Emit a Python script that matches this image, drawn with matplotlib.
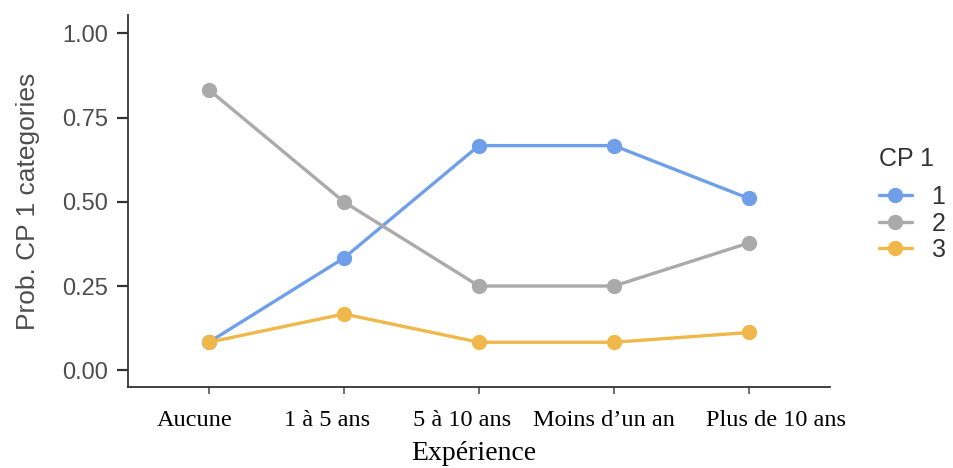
import matplotlib
matplotlib.use("Agg")
import matplotlib.pyplot as plt
from matplotlib.transforms import ScaledTranslation

categories = ["Aucune", "1 à 5 ans", "5 à 10 ans", "Moins d\u2019un an", "Plus de 10 ans"]
cp1 = [0.083, 0.333, 0.667, 0.667, 0.510]
cp2 = [0.833, 0.500, 0.250, 0.250, 0.378]
cp3 = [0.083, 0.167, 0.083, 0.083, 0.112]
series_labels = ["1", "2", "3"]
colors = ["#6f9fe8", "#aaaaaa", "#f0b84a"]
yticks = [0.0, 0.25, 0.5, 0.75, 1.0]
ytick_labels = ["0.00", "0.25", "0.50", "0.75", "1.00"]

fig = plt.figure(figsize=(9.54, 4.68), dpi=100)
ax = fig.add_axes([0.134, 0.173, 0.736, 0.795])

x = list(range(1, len(categories) + 1))
for vals, lab, col in zip([cp1, cp2, cp3], series_labels, colors):
    ax.plot(x, vals, color=col, lw=2.4, marker="o", ms=10, label=lab,
            solid_capstyle="round")

ax.set_xlim(0.4, 5.6)
ax.set_ylim(-0.05, 1.055)
ax.set_yticks(yticks)
ax.set_yticklabels(ytick_labels, fontsize=17, color="#4d4d4d",
                   family=["Liberation Sans"])
ax.set_xticks(x)
ax.set_xticklabels([])
# x tick labels, nudged horizontally (pixels at 100 dpi) as in the reference
nudges = [-14, -17, -17, -10, 27]
for xi, lab, dx in zip(x, categories, nudges):
    tr = ax.get_xaxis_transform() + ScaledTranslation(dx / 100, -0.33, fig.dpi_scale_trans)
    ax.text(xi, 0, lab, transform=tr, ha="center", va="center", fontsize=17.5,
            family=["Liberation Serif"], color="black", clip_on=False)

for s in ["top", "right"]:
    ax.spines[s].set_visible(False)
for s in ["left", "bottom"]:
    ax.spines[s].set_color("#333333")
    ax.spines[s].set_linewidth(1.3)
ax.tick_params(axis="y", length=8, width=1.6, color="#333333", pad=6)
ax.tick_params(axis="x", length=5, width=1.2, color="#555555", pad=12)

ax.set_ylabel("Prob. CP 1 categories", fontsize=19, color="#4d4d4d",
              family=["Liberation Sans"], labelpad=16)
ax.text(0.5, 0, "Expérience", transform=ax.transAxes + ScaledTranslation(-0.05, -0.66, fig.dpi_scale_trans),
        ha="center", va="center", fontsize=20, family=["Liberation Serif"], clip_on=False)

leg = ax.legend(title="CP 1", loc="center left", bbox_to_anchor=(1.045, 0.49),
                frameon=False, prop={"family": "Liberation Sans", "size": 18},
                title_fontproperties={"family": "Liberation Sans", "size": 18},
                handlelength=1.3, labelspacing=0.1, handletextpad=0.8,
                borderaxespad=0.3)
leg._legend_box.align = "left"
leg._legend_box.sep = 10
for t in leg.get_texts():
    t.set_color("#333333")
leg.get_title().set_color("#333333")

fig.savefig("out.png", dpi=100)
